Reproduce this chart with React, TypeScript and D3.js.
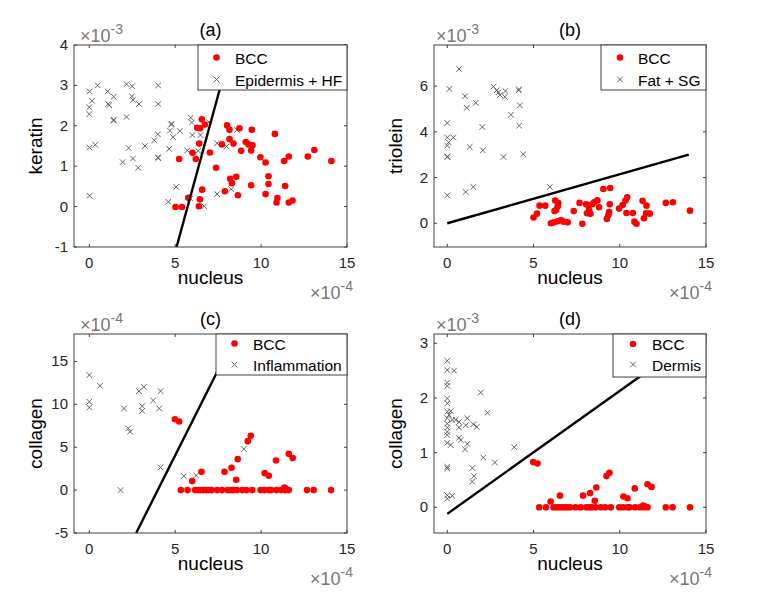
import * as d3 from 'd3'

// nucleus values are in units of 1e-4, ordinates in the unit shown on each panel
const xTicks = [0, 5, 10, 15]

// (a) keratin (1e-3)
const epiNucleus = [0.02, 0.49, 0.16, 0.0, 0.0, 1.07, 1.42, 1.1, 1.16, 1.4, 1.43, 2.17, 2.5, 2.48, 2.54, 2.9, 2.17, 4.01, 4.01, 0.02, 0.35, 2.29, 3.24, 1.94, 2.54, 2.85, 3.78, 3.99, 3.99, 4.01, 4.65, 4.77, 4.79, 4.69, 4.88, 5.27, 5.9, 5.97, 6.0, 6.47, 5.7, 6.34, 5.06, 4.6, 0.02, 6.69, 5.88, 7.44, 8.26, 7.99, 7.44, 8.6, 6.96]
const epiKeratin = [2.85, 3.0, 2.62, 2.46, 2.29, 2.85, 2.72, 2.54, 2.51, 2.13, 2.15, 3.03, 2.98, 2.73, 2.64, 2.54, 2.22, 3.0, 2.54, 1.46, 1.53, 1.45, 1.5, 1.1, 1.19, 0.96, 1.64, 1.79, 1.22, 1.2, 1.43, 2.03, 2.05, 1.88, 1.72, 1.87, 2.2, 2.08, 1.77, 1.77, 1.39, 1.38, 0.49, 0.12, 0.27, 0.01, 0.2, 0.31, 0.43, 1.49, 1.57, 1.9, 2.09]
const bccANucleus = [6.55, 6.73, 6.28, 6.45, 6.4, 6.01, 7.02, 6.2, 5.23, 7.38, 8.02, 8.16, 8.74, 9.46, 10.8, 8.16, 7.72, 8.39, 9.11, 9.27, 9.5, 8.84, 9.42, 9.96, 10.26, 11.34, 11.61, 12.72, 13.1, 14.09, 8.2, 8.3, 8.55, 9.42, 10.43, 10.43, 11.4, 6.57, 7.89, 8.65, 10.26, 10.95, 10.9, 11.61, 11.83, 5.76, 6.44, 5.02, 5.39, 6.38]
const bccAKeratin = [2.16, 2.03, 1.95, 1.94, 1.56, 1.33, 1.34, 1.18, 1.18, 0.96, 2.01, 1.9, 1.94, 1.9, 1.8, 1.67, 1.54, 1.56, 1.6, 1.54, 1.52, 1.38, 1.39, 1.22, 1.09, 1.13, 1.24, 1.24, 1.4, 1.13, 0.69, 0.58, 0.74, 0.53, 0.75, 0.56, 0.51, 0.42, 0.38, 0.28, 0.31, 0.21, 0.1, 0.1, 0.15, 0.22, 0.18, -0.01, -0.01, 0.01]
const lineANucleus = [5.08, 8.3]
const lineAKeratin = [-1, 4]

// (b) triolein (1e-3)
const fatNucleus = [0.68, 0.12, 1.03, 1.13, 1.65, 2.67, 2.87, 2.97, 3.05, 3.37, 3.34, 4.13, 4.16, 4.21, 3.69, 4.17, 0, 2.03, 0, 0.35, 0.08, 0, 1.3, 2.06, 0, 0.02, 3.26, 4.4, 0, 1.07, 1.51, 5.95]
const fatTriolein = [6.75, 5.88, 5.56, 5.05, 5.27, 5.98, 5.82, 5.73, 5.61, 5.79, 5.53, 5.82, 5.85, 5.16, 4.75, 4.27, 4.39, 4.21, 3.75, 3.75, 3.54, 3.4, 3.34, 3.19, 2.9, 2.92, 2.9, 3.02, 1.22, 1.37, 1.59, 1.59]
const bccBNucleus = [5.0, 5.2, 5.35, 5.68, 6.26, 6.44, 6.4, 6.3, 6.22, 6.01, 6.2, 6.4, 6.59, 6.74, 6.98, 7.33, 7.67, 7.83, 8.05, 8.2, 8.41, 8.51, 8.7, 8.8, 8.1, 8.3, 8.22, 9.05, 9.44, 9.42, 9.38, 9.34, 9.25, 9.96, 10.17, 10.43, 10.33, 10.39, 10.76, 10.85, 10.97, 11.32, 11.55, 11.4, 11.53, 11.74, 12.67, 13.08, 14.07]
const bccBTriolein = [0.25, 0.42, 0.77, 0.77, 0.99, 0.88, 0.73, 0.58, 0.53, 0.0, 0.04, 0.09, 0.14, 0.07, 0.04, 0.53, 0.89, -0.02, 0.83, 0.77, 0.83, 0.92, 1.0, 0.7, 0.44, 0.41, 0.58, 1.5, 1.54, 0.83, 0.49, 0.36, 0.19, 0.64, 0.8, 1.14, 0.99, 0.45, 0.45, 0.07, -0.02, 0.98, 0.77, 0.22, 0.44, 0.42, 0.89, 0.92, 0.55]
const lineBNucleus = [0, 14]
const lineBTriolein = [0, 3]

// (c) collagen (1e-4)
const inflNucleus = [0, 0.62, 0, 0, 2.02, 2.27, 2.37, 2.89, 3.18, 3.08, 3.08, 3.72, 4.15, 4.07, 4.15, 1.82, 5.5, 6.22, 8.99]
const inflCollagen = [13.4, 12.16, 10.3, 9.63, 9.52, 7.19, 6.8, 11.54, 12.04, 9.79, 9.25, 10.45, 11.54, 9.52, 2.64, 0, 1.63, 1.71, 4.78]
const bccNucleus = [4.98, 5.23, 5.99, 6.53, 7.87, 8.28, 8.55, 8.64, 9.23, 9.4, 10.21, 10.45, 10.87, 11.61, 11.84, 11.36, 11.44,
  5.33, 5.72, 6.16, 6.34, 6.48, 6.63, 6.8, 6.96, 7.12, 7.44, 7.73, 8.06, 8.22, 8.37, 8.6, 8.9, 9.15, 9.48, 9.97, 10.2, 10.45, 10.58, 10.89, 11.17, 11.4, 11.61, 12.67, 13.06, 14.07]
const bccCollagen = [8.27, 8.0, 1.05, 2.13, 2.13, 2.6, 1.2, 3.61, 5.71, 6.33, 1.98, 1.67, 3.46, 4.23, 3.73, 0.31, 0.12,
  0, 0, 0, 0, 0, 0, 0, 0, 0, 0, 0, 0, 0, 0, 0, 0, 0, 0, 0, 0, 0, 0, 0, 0, 0, 0, 0, 0, 0]
const lineCNucleus = [2.73, 8.55]
const lineCCollagen = [-5, 18.2]

// (d) collagen (1e-3)
const dermisNucleus = [0, 0, 0.39, 0, 0, 0, 0, 1.94, 2.33, 0, 0.2, 0.1, 0, 0.29, 0.49, 0.68, 0.68, 0, 0, 0, 1.16, 1.07, 1.51, 1.71, 0, 0.68, 0.78, 0, 0.2, 1.16, 1.03, 3.88, 2.09, 2.76, 0, 0, 1.45, 1.55, 1.45, 0, 0.29, 0]
const dermisCollagen = [2.68, 2.51, 2.5, 2.28, 2.22, 1.99, 1.9, 2.1, 1.73, 1.75, 1.76, 1.69, 1.63, 1.6, 1.6, 1.56, 1.46, 1.53, 1.46, 1.38, 1.63, 1.5, 1.52, 1.47, 1.32, 1.27, 1.23, 1.18, 1.14, 1.16, 1.06, 1.1, 0.91, 0.82, 0.74, 0.71, 0.72, 0.57, 0.47, 0.22, 0.21, 0.16]
const bccCollagenD = bccCollagen.map((v) => v / 10)
const lineDNucleus = [0, 14]
const lineDCollagen = [-0.12, 3.03]

const FONT = "'Liberation Sans', Arial, sans-serif"
const AXIS = '#404040'

interface Legend { x: number; y: number; w: number; h: number; row1: number; row2: number; mark: number; text: number }

interface PanelProps {
  left: number
  right: number
  top: number
  bottom: number
  xDomain: [number, number]
  yDomain: [number, number]
  yTicks: number[]
  title: string
  yLabel: string
  expTop: string
  expOffset: number
  otherLabel: string
  otherX: number[]
  otherY: number[]
  bccX: number[]
  bccY: number[]
  lineX: number[]
  lineY: number[]
  legend: Legend
}

function Panel(p: PanelProps) {
  const x = d3.scaleLinear().domain(p.xDomain).range([p.left, p.right])
  const y = d3.scaleLinear().domain(p.yDomain).range([p.bottom, p.top])
  const line = d3
    .line<number>()
    .x((d) => x(p.lineX[d]))
    .y((d) => y(p.lineY[d]))
  const midX = (p.left + p.right) / 2
  const midY = (p.top + p.bottom) / 2
  const lg = p.legend
  const tick = 3

  return (
    <g fontFamily={FONT}>
      {/* data */}
      {p.otherX.map((v, i) => (
        <path
          key={'o' + i}
          transform={`translate(${x(v)},${y(p.otherY[i])})`}
          d="M-2.8,-2.8L2.8,2.8M-2.8,2.8L2.8,-2.8"
          stroke="#555"
          strokeWidth={0.9}
          fill="none"
        />
      ))}
      {p.bccX.map((v, i) => (
        <circle key={'b' + i} cx={x(v)} cy={y(p.bccY[i])} r={3.3} fill="#ff0000" />
      ))}
      <path d={line([0, 1]) || ''} stroke="#000" strokeWidth={2.4} fill="none" />

      {/* box and ticks */}
      <rect
        x={p.left}
        y={p.top}
        width={p.right - p.left}
        height={p.bottom - p.top}
        fill="none"
        stroke={AXIS}
        strokeWidth={1}
      />
      {xTicks.map((t) => (
        <g key={'xt' + t}>
          <line x1={x(t)} x2={x(t)} y1={p.bottom} y2={p.bottom - tick} stroke={AXIS} />
          <line x1={x(t)} x2={x(t)} y1={p.top} y2={p.top + tick} stroke={AXIS} />
          <text x={x(t)} y={p.bottom + 21} textAnchor="middle" fontSize={15} fill="#262626">
            {t}
          </text>
        </g>
      ))}
      {p.yTicks.map((t) => (
        <g key={'yt' + t}>
          <line x1={p.left} x2={p.left + tick} y1={y(t)} y2={y(t)} stroke={AXIS} />
          <line x1={p.right} x2={p.right - tick} y1={y(t)} y2={y(t)} stroke={AXIS} />
          <text x={p.left - 6} y={y(t) + 5} textAnchor="end" fontSize={15} fill="#262626">
            {t}
          </text>
        </g>
      ))}

      {/* labels */}
      <text x={midX} y={p.top - 9} textAnchor="middle" fontSize={18} fill="#000">
        {p.title}
      </text>
      <text x={midX} y={p.bottom + 37} textAnchor="middle" fontSize={19} fill="#000">
        nucleus
      </text>
      <text
        transform={`translate(${p.left - 32},${midY}) rotate(-90)`}
        textAnchor="middle"
        fontSize={19}
        fill="#000"
      >
        {p.yLabel}
      </text>
      <text x={p.left + p.expOffset} y={p.top - 3} fontSize={18} fill="#777">
        ×10<tspan dy={-8} fontSize={14}>{p.expTop}</tspan>
      </text>
      <text x={p.right + 6} y={p.bottom + 52} textAnchor="end" fontSize={18} fill="#777">
        ×10<tspan dy={-8} fontSize={14}>-4</tspan>
      </text>

      {/* legend */}
      <rect x={lg.x} y={lg.y} width={lg.w} height={lg.h} fill="#fff" stroke={AXIS} strokeWidth={1} />
      <circle cx={lg.mark} cy={lg.row1} r={3.3} fill="#ff0000" />
      <text x={lg.text} y={lg.row1 + 6} fontSize={15.5} fill="#000">
        BCC
      </text>
      <path
        transform={`translate(${lg.mark},${lg.row2})`}
        d="M-2.8,-2.8L2.8,2.8M-2.8,2.8L2.8,-2.8"
        stroke="#555"
        strokeWidth={0.9}
      />
      <text x={lg.text} y={lg.row2 + 6} fontSize={15.5} fill="#000">
        {p.otherLabel}
      </text>
    </g>
  )
}

export default function App() {
  return (
    <svg
      width={784}
      height={604}
      style={{ position: 'absolute', left: 0, top: 0, background: '#fff' }}
    >
      <Panel
        left={74} right={347} top={45} bottom={247}
        xDomain={[-0.89, 15]} yDomain={[-1, 4]} yTicks={[-1, 0, 1, 2, 3, 4]}
        title="(a)" yLabel="keratin" expTop="-3" expOffset={6}
        otherLabel="Epidermis + HF" otherX={epiNucleus} otherY={epiKeratin}
        bccX={bccANucleus} bccY={bccAKeratin}
        lineX={lineANucleus} lineY={lineAKeratin}
        legend={{ x: 198, y: 45, w: 149, h: 45, row1: 57.5, row2: 79.5, mark: 216.5, text: 235 }}
      />
      <Panel
        left={434} right={706} top={45} bottom={247}
        xDomain={[-0.77, 15]} yDomain={[-1.04, 7.8]} yTicks={[0, 2, 4, 6]}
        title="(b)" yLabel="triolein" expTop="-3" expOffset={2}
        otherLabel="Fat + SG" otherX={fatNucleus} otherY={fatTriolein}
        bccX={bccBNucleus} bccY={bccBTriolein}
        lineX={lineBNucleus} lineY={lineBTriolein}
        legend={{ x: 601, y: 45, w: 105, h: 45, row1: 57.5, row2: 79.5, mark: 620, text: 638 }}
      />
      <Panel
        left={74} right={347} top={334} bottom={533}
        xDomain={[-0.89, 15]} yDomain={[-5, 18.2]} yTicks={[-5, 0, 5, 10, 15]}
        title="(c)" yLabel="collagen" expTop="-4" expOffset={6}
        otherLabel="Inflammation" otherX={inflNucleus} otherY={inflCollagen}
        bccX={bccNucleus} bccY={bccCollagen}
        lineX={lineCNucleus} lineY={lineCCollagen}
        legend={{ x: 216, y: 334, w: 131, h: 41, row1: 343.5, row2: 364.5, mark: 234.5, text: 253 }}
      />
      <Panel
        left={434} right={706} top={334} bottom={533}
        xDomain={[-0.77, 15]} yDomain={[-0.47, 3.17]} yTicks={[0, 1, 2, 3]}
        title="(d)" yLabel="collagen" expTop="-3" expOffset={2}
        otherLabel="Dermis" otherX={dermisNucleus} otherY={dermisCollagen}
        bccX={bccNucleus} bccY={bccCollagenD}
        lineX={lineDNucleus} lineY={lineDCollagen}
        legend={{ x: 613, y: 334, w: 93, h: 43, row1: 344, row2: 364.5, mark: 633, text: 652 }}
      />
    </svg>
  )
}
